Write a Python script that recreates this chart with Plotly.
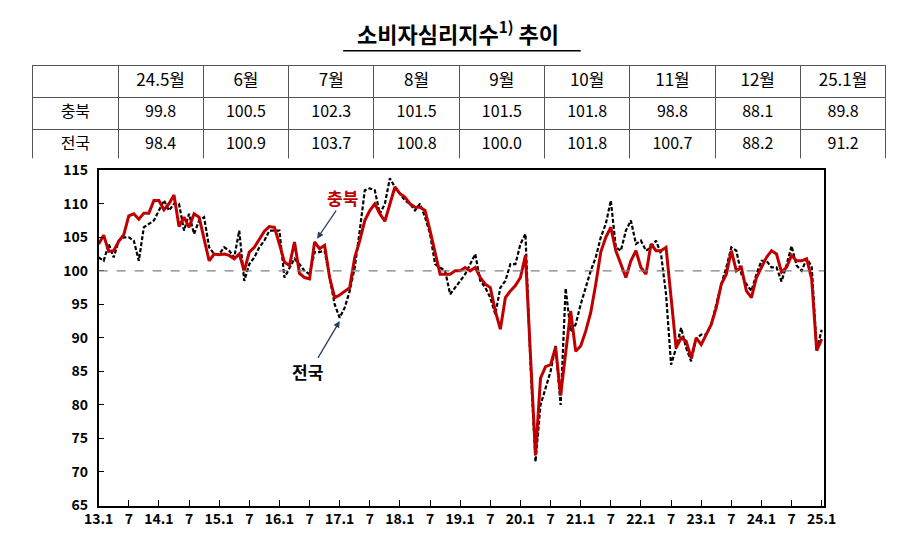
import plotly.graph_objects as go

# table data
months = ['24.5월', '6월', '7월', '8월', '9월', '10월', '11월', '12월', '25.1월']
tbl_chungbuk = ['99.8', '100.5', '102.3', '101.5', '101.5', '101.8', '98.8', '88.1', '89.8']
tbl_national = ['98.4', '100.9', '103.7', '100.8', '100.0', '101.8', '100.7', '88.2', '91.2']

# monthly series, 2013.1 ~ 2025.1
chungbuk = [
    104, 105.3, 102.9, 103, 104.4, 105.4, 108.2, 108.5, 107.7, 108.6, 108.6, 110.5,
    110.5, 109.1, 110, 111.3, 106.6, 108, 106.5, 108.5, 108, 104.5, 101.5, 102.5,
    102.4, 102.5, 102.3, 101.8, 102.5, 100, 102.8, 103.5, 104.6, 105.9, 106.6, 106.5,
    104, 101.3, 100.8, 104.3, 99.6, 99, 98.8, 104.3, 103.3, 103.8, 99, 96,
    96.4, 97, 97.5, 102, 104.5, 107.5, 109, 110, 108.5, 107.4, 110, 112.5,
    111.5, 111, 110, 109.5, 109.5, 109, 106, 102.5, 99.5, 99.5, 99.5, 100,
    100, 100.5, 100, 100.5, 99, 98, 97.5, 94, 91.3, 96, 97, 97.8,
    99, 102.3, 87, 72.5, 84, 85.7, 86, 88.6, 81.4, 88, 94, 88,
    88.8, 91, 93.8, 98, 102.8, 105, 106.5, 103, 101, 99, 101.5, 103,
    100.5, 99.5, 104, 103, 103, 103.5, 96, 88.5, 90, 89.5, 87, 90,
    89, 90.5, 92, 94.5, 98, 99.5, 103, 100, 100.5, 97, 96, 99,
    100.5, 102, 103, 102.5, 99.8, 100.5, 102.3, 101.5, 101.5, 101.8, 98.8, 88.1,
    89.8,
]
national = [
    102, 101.5, 104, 102, 104.5, 105, 105, 104.5, 101.5, 106.5, 107, 107.5,
    109, 110.5, 109, 110, 110, 106, 108.5, 105.5, 107.5, 108, 103.5, 102.5,
    102.5, 103.5, 103, 102, 106, 98.5, 101, 102, 103.5, 104.5, 106, 106,
    106, 99, 100.5, 101.8, 101, 100, 99.5, 102.8, 102.8, 103, 99, 95,
    93, 94.5, 97, 100.5, 106, 112, 112.3, 112, 108.5, 110, 113.8, 112.5,
    111.5, 110.5, 110, 109, 110, 108, 105.5, 101, 100.5, 100, 96.5, 97.5,
    98.5, 99.5, 101, 102.5, 98.5, 97.5, 96, 93.5, 97.5, 98.5, 101, 101,
    104, 105.5, 86, 71.5, 80, 82.5, 85, 88.8, 80, 97.4, 91, 92,
    95, 97.5, 100, 102, 105, 107, 110.5, 103.5, 103, 106, 107.5, 104,
    104.5, 103, 103.5, 104.5, 102.5, 96.5, 86, 88.5, 91.5, 88.5, 86.5, 89.9,
    90.5, 90.5, 92, 95, 98, 100.5, 103.5, 103, 99.5, 98, 97, 99.5,
    101.5, 101.5, 100.5, 100.5, 98.4, 100.9, 103.7, 100.8, 100.0, 101.8, 100.7, 88.2,
    91.2,
]
x_labels = ['13.1', '7', '14.1', '7', '15.1', '7', '16.1', '7', '17.1', '7', '18.1', '7',
            '19.1', '7', '20.1', '7', '21.1', '7', '22.1', '7', '23.1', '7', '24.1', '7', '25.1']

FONT = 'Noto Sans CJK KR'
idx = list(range(len(chungbuk)))

fig = go.Figure()

fig.add_trace(go.Table(
    domain=dict(x=[10 / 900, 890 / 900], y=[1 - 145 / 546, 1 - 48 / 546]),
    columnwidth=[88] + [88] * 9,
    header=dict(values=[''] + months, height=32, fill_color='white',
                line_color='#555', align='center',
                font=dict(family=FONT, size=17, color='black')),
    cells=dict(values=[['충북', '전국']] + [[a, b] for a, b in zip(tbl_chungbuk, tbl_national)],
               height=32, fill_color='white', line_color='#555', align='center',
               font=dict(family=FONT, size=16, color='black')),
))

fig.add_trace(go.Scatter(x=idx, y=national, mode='lines', name='전국',
                         line=dict(color='black', width=2.2, dash='4px,2px')))
fig.add_trace(go.Scatter(x=idx, y=chungbuk, mode='lines', name='충북',
                         line=dict(color='#c00000', width=3)))

fig.add_hline(y=100, line=dict(color='#808080', width=1.3, dash='dash'))

fig.add_annotation(x=48.5, y=111, text='<b>충북</b>', showarrow=False,
                   font=dict(family=FONT, size=17, color='#c00000'))
fig.add_annotation(x=43.5, y=104.8, ax=47.5, ay=109.2, axref='x', ayref='y',
                   showarrow=True, arrowhead=2, arrowsize=1, arrowwidth=1.3, text='')
fig.add_annotation(x=41.5, y=85, text='<b>전국</b>', showarrow=False,
                   font=dict(family=FONT, size=17, color='black'))
fig.add_annotation(x=48, y=92.5, ax=43.5, ay=86.8, axref='x', ayref='y',
                   showarrow=True, arrowhead=2, arrowsize=1, arrowwidth=1.3, text='')

fig.update_layout(
    width=900, height=546,
    margin=dict(l=0, r=0, t=0, b=0),
    paper_bgcolor='white', plot_bgcolor='white',
    showlegend=False,
    title=dict(text='<b>소비자심리지수<sup>1)</sup> 추이</b>', x=0.5, y=0.965,
               xanchor='center', font=dict(family=FONT, size=22, color='black')),
    xaxis=dict(domain=[78 / 900, 826 / 900], range=[0, 144.5],
               tickvals=list(range(0, 145, 6)), ticktext=x_labels,
               ticks='inside', ticklen=6, tickcolor='black',
               showgrid=False, zeroline=False, showline=True, linecolor='black',
               linewidth=1.5, mirror=True,
               tickfont=dict(family=FONT, size=14, color='black', weight='bold')),
    yaxis=dict(domain=[1 - 505 / 546, 1 - 157 / 546], range=[65, 115], dtick=5,
               ticks='inside', ticklen=6, tickcolor='black',
               showgrid=False, zeroline=False, showline=True, linecolor='black',
               linewidth=1.5, mirror=True, ticklabelstandoff=6,
               tickfont=dict(family=FONT, size=14, color='black', weight='bold')),
)
fig.add_shape(type='line', xref='paper', yref='paper', x0=330 / 900, x1=575 / 900,
              y0=1 - 33 / 546, y1=1 - 33 / 546, line=dict(color='black', width=1.5))

fig.write_html('out.html')
